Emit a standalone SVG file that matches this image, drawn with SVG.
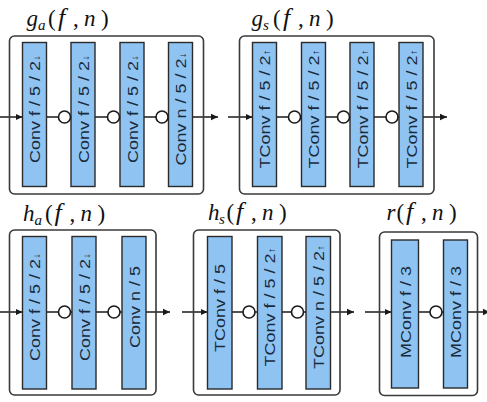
<svg xmlns="http://www.w3.org/2000/svg" width="487" height="402" viewBox="0 0 487 402">
<defs>
<marker id="ah" markerWidth="8" markerHeight="8" refX="7" refY="4" orient="auto" markerUnits="userSpaceOnUse">
<path d="M0,0.8 L7,4 L0,7.2 Z" fill="#1a1a1a"/>
</marker>
</defs>
<style>
.box{fill:none;stroke:#3a3a3a;stroke-width:1.6}
.blk{fill:#8fc4f2;stroke:#2a2a2a;stroke-width:1.4}
.bt{font-family:"Liberation Sans",Arial,sans-serif;font-size:18px;fill:#1a2a3a;text-anchor:middle}
.ar{font-size:12px}
.c{fill:#fff;stroke:#1a1a1a;stroke-width:1.6}
.ln{stroke:#1a1a1a;stroke-width:1.5;fill:none}
.la{stroke:#1a1a1a;stroke-width:1.5;fill:none;marker-end:url(#ah)}
.tt{font-family:"Liberation Serif","Times New Roman",serif;font-size:23px;fill:#111}
.it{font-style:italic}
.fi{font-style:italic;font-size:26px}
.sub{font-style:italic;font-size:15px}
</style>

<g id="connectors">
<line class="la" x1="0" y1="117" x2="22.5" y2="117"/>
<line class="ln" x1="46.5" y1="117" x2="71" y2="117"/>
<line class="ln" x1="95" y1="117" x2="120" y2="117"/>
<line class="ln" x1="144" y1="117" x2="168.5" y2="117"/>
<line class="la" x1="192.5" y1="117" x2="218" y2="117"/>
<line class="la" x1="228" y1="117" x2="252.5" y2="117"/>
<line class="ln" x1="276.5" y1="117" x2="301.5" y2="117"/>
<line class="ln" x1="325.5" y1="117" x2="350" y2="117"/>
<line class="ln" x1="374" y1="117" x2="399" y2="117"/>
<line class="la" x1="423" y1="117" x2="447" y2="117"/>
<line class="la" x1="0" y1="312" x2="22.5" y2="312"/>
<line class="ln" x1="46.5" y1="312" x2="72" y2="312"/>
<line class="ln" x1="96" y1="312" x2="122" y2="312"/>
<line class="la" x1="146" y1="312" x2="170" y2="312"/>
<line class="la" x1="182" y1="312" x2="207.5" y2="312"/>
<line class="ln" x1="232" y1="312" x2="257.5" y2="312"/>
<line class="ln" x1="282" y1="312" x2="306" y2="312"/>
<line class="la" x1="330.5" y1="312" x2="354" y2="312"/>
<line class="la" x1="365" y1="312" x2="391.5" y2="312"/>
<line class="ln" x1="418.5" y1="312" x2="443.5" y2="312"/>
<line class="la" x1="467.5" y1="312" x2="490" y2="312"/>
</g>

<g id="ga">
<text class="tt" y="26"><tspan class="it" x="26.5">g</tspan><tspan class="sub" x="38" dy="4">a</tspan><tspan x="48" dy="-4">(</tspan><tspan class="fi" x="58">f</tspan><tspan x="73">,</tspan><tspan class="it" x="84">n</tspan><tspan x="101">)</tspan></text>
<rect class="box" x="9.5" y="36" width="194" height="158" rx="5"/>
<rect class="blk" x="22.5" y="42.5" width="24" height="144"/>
<rect class="blk" x="71" y="42.5" width="24" height="144"/>
<rect class="blk" x="120" y="42.5" width="24" height="144"/>
<rect class="blk" x="168.5" y="42.5" width="24" height="144"/>
<text class="bt" transform="translate(40,109) rotate(-90) scale(1,0.8)">Conv f / 5 / 2<tspan class="ar">↓</tspan></text>
<text class="bt" transform="translate(88.5,109) rotate(-90) scale(1,0.8)">Conv f / 5 / 2<tspan class="ar">↓</tspan></text>
<text class="bt" transform="translate(137.5,109) rotate(-90) scale(1,0.8)">Conv f / 5 / 2<tspan class="ar">↓</tspan></text>
<text class="bt" transform="translate(186,109) rotate(-90) scale(1,0.8)">Conv n / 5 / 2<tspan class="ar">↓</tspan></text>
<circle class="c" cx="64.5" cy="117" r="6"/>
<circle class="c" cx="113.5" cy="117" r="6"/>
<circle class="c" cx="162" cy="117" r="6"/>
</g>

<g id="gs">
<text class="tt" y="26"><tspan class="it" x="251.5">g</tspan><tspan class="sub" x="263" dy="4">s</tspan><tspan x="273" dy="-4">(</tspan><tspan class="fi" x="283">f</tspan><tspan x="298">,</tspan><tspan class="it" x="309">n</tspan><tspan x="326">)</tspan></text>
<rect class="box" x="239.5" y="36" width="194.5" height="158" rx="5"/>
<rect class="blk" x="252.5" y="42.5" width="24" height="144"/>
<rect class="blk" x="301.5" y="42.5" width="24" height="144"/>
<rect class="blk" x="350" y="42.5" width="24" height="144"/>
<rect class="blk" x="399" y="42.5" width="24" height="144"/>
<text class="bt" transform="translate(270,109) rotate(-90) scale(1,0.8)">TConv f / 5 / 2<tspan class="ar">↑</tspan></text>
<text class="bt" transform="translate(319,109) rotate(-90) scale(1,0.8)">TConv f / 5 / 2<tspan class="ar">↑</tspan></text>
<text class="bt" transform="translate(367.5,109) rotate(-90) scale(1,0.8)">TConv f / 5 / 2<tspan class="ar">↑</tspan></text>
<text class="bt" transform="translate(416.5,109) rotate(-90) scale(1,0.8)">TConv f / 5 / 2<tspan class="ar">↑</tspan></text>
<circle class="c" cx="294.5" cy="117" r="6"/>
<circle class="c" cx="343.5" cy="117" r="6"/>
<circle class="c" cx="392" cy="117" r="6"/>
</g>

<g id="ha">
<text class="tt" y="221"><tspan class="it" x="23">h</tspan><tspan class="sub" x="34.5" dy="4">a</tspan><tspan x="45" dy="-4">(</tspan><tspan class="fi" x="54.5">f</tspan><tspan x="69.5">,</tspan><tspan class="it" x="80.5">n</tspan><tspan x="97.5">)</tspan></text>
<rect class="box" x="9.5" y="230" width="146.5" height="165" rx="5"/>
<rect class="blk" x="22.5" y="236.5" width="24" height="152.5"/>
<rect class="blk" x="72" y="236.5" width="24" height="152.5"/>
<rect class="blk" x="122" y="236.5" width="24" height="152.5"/>
<text class="bt" transform="translate(40,307) rotate(-90) scale(1,0.8)">Conv f / 5 / 2<tspan class="ar">↓</tspan></text>
<text class="bt" transform="translate(89.5,307) rotate(-90) scale(1,0.8)">Conv f / 5 / 2<tspan class="ar">↓</tspan></text>
<text class="bt" transform="translate(139.5,307) rotate(-90) scale(1,0.8)">Conv n / 5</text>
<circle class="c" cx="64.5" cy="312" r="6"/>
<circle class="c" cx="114" cy="312" r="6"/>
</g>

<g id="hs">
<text class="tt" y="220"><tspan class="it" x="208">h</tspan><tspan class="sub" x="219" dy="4">s</tspan><tspan x="226.5" dy="-4">(</tspan><tspan class="fi" x="236">f</tspan><tspan x="251">,</tspan><tspan class="it" x="262">n</tspan><tspan x="279">)</tspan></text>
<rect class="box" x="193.5" y="230" width="146.5" height="165" rx="5"/>
<rect class="blk" x="207.5" y="236.5" width="24.5" height="152.5"/>
<rect class="blk" x="257.5" y="236.5" width="24.5" height="152.5"/>
<rect class="blk" x="306" y="236.5" width="24.5" height="152.5"/>
<text class="bt" transform="translate(225,308) rotate(-90) scale(1,0.8)">TConv f / 5</text>
<text class="bt" transform="translate(275,307) rotate(-90) scale(1,0.8)">TConv f / 5 / 2<tspan class="ar">↑</tspan></text>
<text class="bt" transform="translate(323.5,307) rotate(-90) scale(1,0.8)">TConv n / 5 / 2<tspan class="ar">↑</tspan></text>
<circle class="c" cx="249" cy="312" r="6"/>
<circle class="c" cx="297.5" cy="312" r="6"/>
</g>

<g id="r">
<text class="tt" y="219.5"><tspan class="it" x="386.5">r</tspan><tspan x="396.5">(</tspan><tspan class="fi" x="406">f</tspan><tspan x="421">,</tspan><tspan class="it" x="432">n</tspan><tspan x="449">)</tspan></text>
<rect class="box" x="379.5" y="232" width="98" height="163.5" rx="5"/>
<rect class="blk" x="391.5" y="240" width="27" height="148"/>
<rect class="blk" x="443.5" y="240" width="24" height="148"/>
<text class="bt" transform="translate(410.5,312) rotate(-90) scale(1,0.8)">MConv f / 3</text>
<text class="bt" transform="translate(461,312) rotate(-90) scale(1,0.8)">MConv f / 3</text>
<circle class="c" cx="436" cy="312" r="6"/>
</g>
</svg>
